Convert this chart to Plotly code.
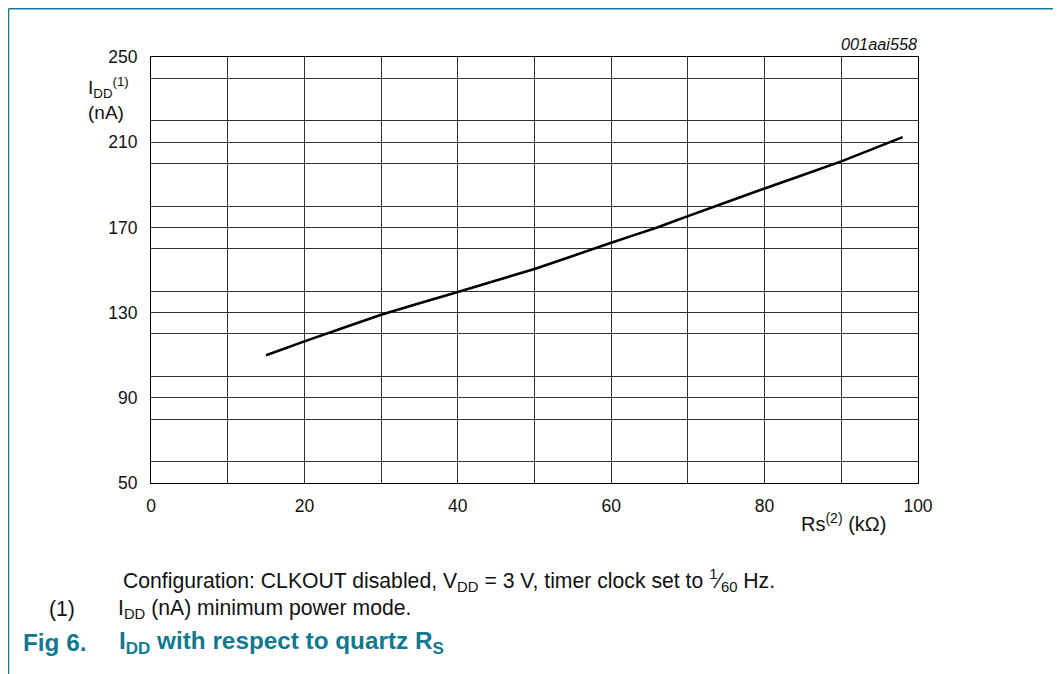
import plotly.graph_objects as go

rs_kohm = [15, 20, 30, 40, 50, 60, 66, 70, 80, 90, 98]
idd_na = [110, 116.5, 129, 139.7, 150.5, 162.8, 170, 175.3, 188.3, 201, 212.4]

x_ticks = [0, 20, 40, 60, 80, 100]
y_ticks = [50, 90, 130, 170, 210, 250]

FONT = "Liberation Sans, Arial, sans-serif"
TEAL = "#10798f"
GRID = "#333333"

# page offset (browser body margin)
OFF = 8
W, H = 1061 - OFF, 674 - OFF
ml, mr, mt, mb = 151 - OFF, 1061 - 918, 57 - OFF, 674 - 483
pw, ph = W - ml - mr, H - mt - mb


def px(xp):
    return (xp - OFF - ml) / pw


def py(yp):
    return (H - mb - (yp - OFF)) / ph


fig = go.Figure()
fig.add_trace(go.Scatter(x=rs_kohm, y=idd_na, mode="lines",
                         line=dict(color="black", width=2.6, shape="spline", smoothing=0.3),
                         hoverinfo="skip", showlegend=False))

fig.update_xaxes(range=[0, 100], tickvals=x_ticks, ticktext=[str(v) for v in x_ticks],
                 showgrid=True, gridcolor=GRID, gridwidth=1,
                 minor=dict(showgrid=True, dtick=10, gridcolor=GRID, gridwidth=1),
                 showline=True, linecolor="black", linewidth=1, mirror=True,
                 ticks="", ticklabelstandoff=7, zeroline=False,
                 tickfont=dict(size=17.5, color="#111"))
fig.update_yaxes(range=[50, 250], tickvals=y_ticks, ticktext=[str(v) for v in y_ticks],
                 showgrid=True, gridcolor=GRID, gridwidth=1,
                 minor=dict(showgrid=True, dtick=20, gridcolor=GRID, gridwidth=1),
                 showline=True, linecolor="black", linewidth=1, mirror=True,
                 ticks="", ticklabelstandoff=9, zeroline=False,
                 tickfont=dict(size=17.5, color="#111"))

texts = [
    (131, 87, "right", "I<sub>DD</sub><sup>(1)</sup>", 19, "#111"),
    (126, 112, "right", "(nA)", 19, "#111"),
    (919, 44, "right", "<i>001aai558</i>", 16.3, "#111"),
    (843, 522, "center", "Rs<sup>(2)</sup> (kΩ)", 20, "#111"),
    (121, 580, "left", "Configuration: CLKOUT disabled, V<sub>DD</sub> = 3 V, timer clock set to <sup>1</sup>⁄<sub>60</sub> Hz.", 21.2, "#111"),
    (47, 609, "left", "(1)", 21.2, "#111"),
    (116, 609, "left", "I<sub>DD</sub> (nA) minimum power mode.", 21.2, "#111"),
    (21, 642, "left", "<b>Fig 6.</b>", 24.3, TEAL),
    (117, 642, "left", "<b>I<sub>DD</sub> with respect to quartz R<sub>S</sub></b>", 24.3, TEAL),
]
for xp, yp, anc, t, s, c in texts:
    fig.add_annotation(x=px(xp), y=py(yp), xref="paper", yref="paper", text=t,
                       xanchor=anc, yanchor="middle", showarrow=False,
                       font=dict(size=s, color=c, family=FONT))

# border lines
fig.add_shape(type="line", xref="paper", yref="paper", x0=px(8.5), x1=px(8.5), y0=py(8.7), y1=py(700),
              line=dict(color=TEAL, width=1.5))
fig.add_shape(type="line", xref="paper", yref="paper", x0=px(8.5), x1=px(1100), y0=py(8.7), y1=py(8.7),
              line=dict(color=TEAL, width=1.5))

fig.update_layout(width=W, height=H, margin=dict(l=ml, r=mr, t=mt, b=mb),
                  paper_bgcolor="white", plot_bgcolor="white",
                  font=dict(family=FONT, size=17.5, color="#111"), showlegend=False)

fig.write_html("out.html")
